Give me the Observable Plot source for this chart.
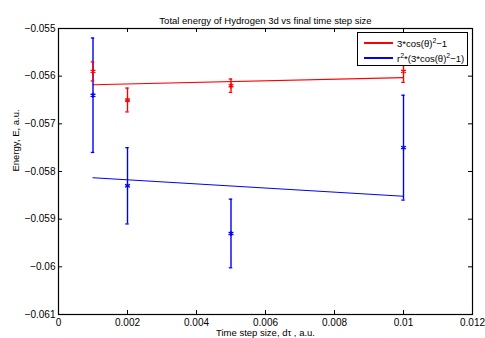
<!DOCTYPE html>
<html>
<head>
<meta charset="utf-8">
<script src="https://cdn.jsdelivr.net/npm/d3@7"></script>
<script src="https://cdn.jsdelivr.net/npm/@observablehq/plot@0.6"></script>
<style>
  html, body { margin: 0; padding: 0; background: #fff; }
  #wrap { position: relative; width: 485px; height: 338px; overflow: hidden; font-family: "Liberation Sans", Arial, sans-serif; }
  #legend { position: absolute; left: 357px; top: 32px; width: 109px; height: 32px; border: 1px solid #000; background: #fff; font-size: 9.5px; }
  .row { position: absolute; left: 0; height: 14px; display: flex; align-items: center; }
  .sw { display: inline-block; width: 29px; height: 1.5px; margin-left: 6px; margin-right: 4px; }
  sup { font-size: 7px; line-height: 0; vertical-align: 4px; }
</style>
</head>
<body>
<div id="wrap">
  <div id="chart"></div>
  <div id="legend">
    <div class="row" style="top:3px"><span class="sw" style="background:#ff0000"></span><span>3*cos(θ)<sup>2</sup>−1</span></div>
    <div class="row" style="top:18px"><span class="sw" style="background:#0000ff"></span><span>r<sup>2</sup>*(3*cos(θ)<sup>2</sup>−1)</span></div>
  </div>
</div>
<script>
const title = "Total energy of Hydrogen 3d vs final time step size";
const xLabel = "Time step size, dτ , a.u.";
const yLabel = "Energy, E, a.u.";

const steps = [0.001, 0.002, 0.005, 0.01];
const redEnergy = [-0.0559, -0.0565, -0.0562, -0.0559];
const redError = [0.0002, 0.00025, 0.00014, 0.00023];
const blueEnergy = [-0.0564, -0.0583, -0.0593, -0.0575];
const blueError = [0.0012, 0.0008, 0.00072, 0.0011];

const fitX = [0.001, 0.01];
const redFit = [-0.05618, -0.05603];
const blueFit = [-0.05813, -0.05852];

const xTicks = [0, 0.002, 0.004, 0.006, 0.008, 0.01, 0.012];
const yTicks = [-0.061, -0.06, -0.059, -0.058, -0.057, -0.056, -0.055];

const RED = "#ff0000", BLUE = "#0000ff";
const cap = 0.00005;

const red = steps.map((x, i) => ({x, y: redEnergy[i], e: redError[i]}));
const blue = steps.map((x, i) => ({x, y: blueEnergy[i], e: blueError[i]}));
const redLine = fitX.map((x, i) => ({x, y: redFit[i]}));
const blueLine = fitX.map((x, i) => ({x, y: blueFit[i]}));

const W = 485, H = 338, mL = 58, mR = 13, mT = 28, mB = 24;
const fw = W - mL - mR, fh = H - mT - mB, tl = 4;

function errMarks(data, color) {
  return [
    Plot.ruleX(data, {x: "x", y1: d => d.y - d.e, y2: d => d.y + d.e, stroke: color, strokeWidth: 1.4}),
    Plot.ruleY(data, {y: d => d.y + d.e, x1: d => d.x - cap, x2: d => d.x + cap, stroke: color, strokeWidth: 1.3}),
    Plot.ruleY(data, {y: d => d.y - d.e, x1: d => d.x - cap, x2: d => d.x + cap, stroke: color, strokeWidth: 1.3}),
    Plot.dot(data, {x: "x", y: "y", symbol: "asterisk", r: 2.6, stroke: color, strokeWidth: 1.3})
  ];
}

const chart = Plot.plot({
  width: W, height: H,
  marginLeft: mL, marginRight: mR, marginTop: mT, marginBottom: mB,
  style: {fontFamily: "'Liberation Sans', Arial, sans-serif", fontSize: "10px", background: "#fff", color: "#000", overflow: "visible"},
  x: {domain: [0, 0.012]},
  y: {domain: [-0.061, -0.055]},
  marks: [
    Plot.axisX(xTicks, {tickSize: 0, tickPadding: 4, tickFormat: d => String(d), label: null}),
    Plot.axisY(yTicks, {tickSize: 0, tickPadding: 3, tickFormat: d => String(d).replace("-", "−"), label: null}),
    Plot.tickX(xTicks, {x: d => d, insetTop: fh - tl, stroke: "#000"}),
    Plot.tickX(xTicks, {x: d => d, insetBottom: fh - tl, stroke: "#000"}),
    Plot.tickY(yTicks, {y: d => d, insetRight: fw - tl, stroke: "#000"}),
    Plot.tickY(yTicks, {y: d => d, insetLeft: fw - tl, stroke: "#000"}),
    Plot.line(blueLine, {x: "x", y: "y", stroke: BLUE, strokeWidth: 1.1}),
    Plot.line(redLine, {x: "x", y: "y", stroke: RED, strokeWidth: 1.1}),
    ...errMarks(blue, BLUE),
    ...errMarks(red, RED),
    Plot.frame({stroke: "#000", strokeWidth: 1.2}),
    Plot.text([title], {frameAnchor: "top", dy: -11, fontSize: 9.5}),
    Plot.text([xLabel], {frameAnchor: "bottom", dy: 21, fontSize: 9.5}),
    Plot.text([yLabel], {frameAnchor: "left", dx: -43, rotate: -90, fontSize: 9.5})
  ]
});
document.getElementById("chart").appendChild(chart);
</script>
</body>
</html>
